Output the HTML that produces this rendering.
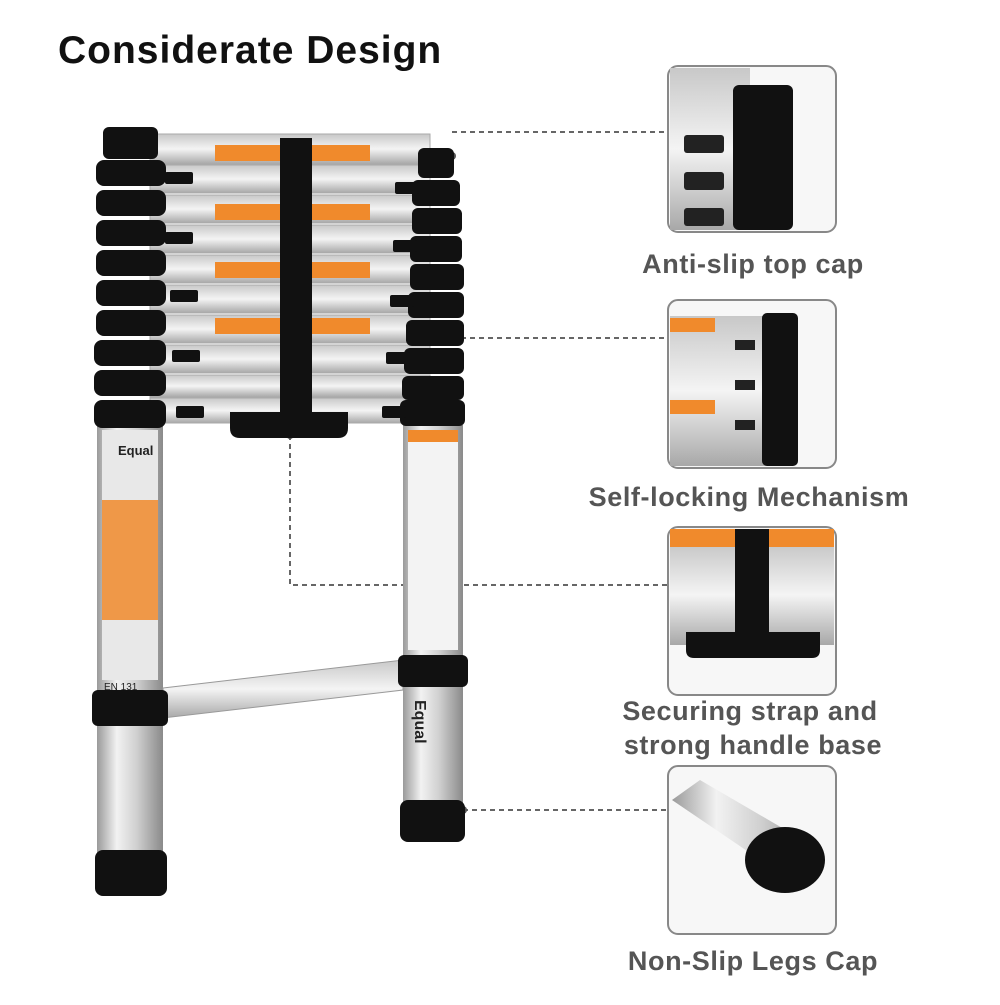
<!DOCTYPE html>
<html><head><meta charset="utf-8"><style>
body{margin:0;background:#fff;width:1000px;height:1000px;overflow:hidden;font-family:"Liberation Sans",sans-serif}
</style></head><body>
<svg width="1000" height="1000" viewBox="0 0 1000 1000" xmlns="http://www.w3.org/2000/svg">
<defs>
<linearGradient id="al" x1="0" x2="1" y1="0" y2="0">
<stop offset="0" stop-color="#9a9a9a"/><stop offset="0.3" stop-color="#f2f2f2"/><stop offset="0.6" stop-color="#d0d0d0"/><stop offset="1" stop-color="#8a8a8a"/></linearGradient>
<linearGradient id="rung" x1="0" x2="0" y1="0" y2="1">
<stop offset="0" stop-color="#c8c8c8"/><stop offset="0.5" stop-color="#f4f4f4"/><stop offset="1" stop-color="#a8a8a8"/></linearGradient>
</defs>
<text x="58" y="63" font-size="39" font-weight="bold" fill="#111" letter-spacing="1">Considerate Design</text>

<!-- connectors -->
<g stroke="#666" stroke-width="2" stroke-dasharray="5,4" fill="none">
<path d="M452 132H668"/><path d="M452 338H668"/><path d="M290 435V585H668"/><path d="M463 810H668"/>
</g>
<g fill="#555"><circle cx="452" cy="156" r="4"/><circle cx="452" cy="338" r="4"/><circle cx="290" cy="435" r="4"/><circle cx="463" cy="810" r="4"/></g>

<!-- legs -->
<rect x="97" y="425" width="66" height="435" fill="url(#al)"/>
<rect x="403" y="425" width="60" height="380" fill="url(#al)"/>
<polygon points="163,688 403,660 403,690 163,718" fill="url(#rung)" stroke="#999"/>
<rect x="92" y="690" width="76" height="36" rx="6" fill="#111"/>
<rect x="398" y="655" width="70" height="32" rx="6" fill="#111"/>
<rect x="95" y="850" width="72" height="46" rx="8" fill="#111"/>
<rect x="400" y="800" width="65" height="42" rx="8" fill="#111"/>
<rect x="102" y="430" width="56" height="250" fill="#e8e8e8"/>
<rect x="102" y="500" width="56" height="120" fill="#f08a2c" opacity="0.85"/>
<text x="118" y="455" font-size="13" font-weight="bold" fill="#222">Equal</text>
<text x="104" y="690" font-size="10" fill="#222">EN 131</text>
<rect x="408" y="430" width="50" height="220" fill="#f3f3f3"/>
<rect x="408" y="430" width="50" height="12" fill="#f08a2c"/>
<text x="415" y="700" font-size="16" font-weight="bold" fill="#222" transform="rotate(90 415 700)">Equal</text>

<!-- rungs -->
<g fill="url(#rung)" stroke="#aaa">
<rect x="150" y="134" width="280" height="30"/>
<rect x="150" y="165" width="280" height="28"/>
<rect x="150" y="195" width="280" height="28"/>
<rect x="150" y="225" width="280" height="28"/>
<rect x="150" y="255" width="280" height="28"/>
<rect x="150" y="285" width="280" height="28"/>
<rect x="150" y="315" width="280" height="28"/>
<rect x="150" y="345" width="280" height="28"/>
<rect x="150" y="375" width="280" height="22"/>
<rect x="150" y="398" width="280" height="25"/>
</g>
<g fill="#f08a2c"><rect x="215" y="145" width="155" height="16"/><rect x="215" y="204" width="155" height="16"/><rect x="215" y="262" width="155" height="16"/><rect x="215" y="318" width="155" height="16"/></g>
<g fill="#111">
<rect x="103" y="127" width="55" height="32" rx="6"/>
<rect x="418" y="148" width="36" height="30" rx="6"/>
<rect x="96" y="160" width="70" height="26" rx="8"/><rect x="96" y="190" width="70" height="26" rx="8"/>
<rect x="96" y="220" width="70" height="26" rx="8"/><rect x="96" y="250" width="70" height="26" rx="8"/>
<rect x="96" y="280" width="70" height="26" rx="8"/><rect x="96" y="310" width="70" height="26" rx="8"/>
<rect x="94" y="340" width="72" height="26" rx="8"/><rect x="94" y="370" width="72" height="26" rx="8"/>
<rect x="94" y="400" width="72" height="28" rx="8"/>
<rect x="412" y="180" width="48" height="26" rx="6"/><rect x="412" y="208" width="50" height="26" rx="6"/>
<rect x="410" y="236" width="52" height="26" rx="6"/><rect x="410" y="264" width="54" height="26" rx="6"/>
<rect x="408" y="292" width="56" height="26" rx="6"/><rect x="406" y="320" width="58" height="26" rx="6"/>
<rect x="404" y="348" width="60" height="26" rx="6"/><rect x="402" y="376" width="62" height="24" rx="6"/>
<rect x="400" y="400" width="65" height="26" rx="6"/>
<rect x="165" y="172" width="28" height="12" rx="2"/><rect x="165" y="232" width="28" height="12" rx="2"/>
<rect x="170" y="290" width="28" height="12" rx="2"/><rect x="172" y="350" width="28" height="12" rx="2"/>
<rect x="176" y="406" width="28" height="12" rx="2"/>
<rect x="395" y="182" width="24" height="12" rx="2"/><rect x="393" y="240" width="24" height="12" rx="2"/>
<rect x="390" y="295" width="24" height="12" rx="2"/><rect x="386" y="352" width="24" height="12" rx="2"/>
<rect x="382" y="406" width="24" height="12" rx="2"/>
<rect x="280" y="138" width="32" height="280"/>
<path d="M230 412H348V428Q348 438 338 438H240Q230 438 230 428Z"/>
</g>

<!-- panels -->
<g fill="#f7f7f7" stroke="#888" stroke-width="2">
<rect x="668" y="66" width="168" height="166" rx="10"/>
<rect x="668" y="300" width="168" height="168" rx="10"/>
<rect x="668" y="527" width="168" height="168" rx="10"/>
<rect x="668" y="766" width="168" height="168" rx="10"/>
</g>
<rect x="670" y="68" width="80" height="162" fill="url(#rung)"/>
<rect x="733" y="85" width="60" height="145" fill="#111" rx="6"/>
<g fill="#222"><rect x="684" y="135" width="40" height="18" rx="3"/><rect x="684" y="172" width="40" height="18" rx="3"/><rect x="684" y="208" width="40" height="18" rx="3"/></g>
<rect x="670" y="316" width="100" height="150" fill="url(#rung)"/>
<g fill="#f08a2c"><rect x="670" y="318" width="45" height="14"/><rect x="670" y="400" width="45" height="14"/></g>
<rect x="762" y="313" width="36" height="153" fill="#111" rx="5"/>
<g fill="#222"><rect x="735" y="340" width="20" height="10"/><rect x="735" y="380" width="20" height="10"/><rect x="735" y="420" width="20" height="10"/></g>
<rect x="670" y="545" width="164" height="100" fill="url(#rung)"/>
<rect x="670" y="529" width="164" height="18" fill="#f08a2c"/>
<rect x="735" y="529" width="34" height="115" fill="#111"/>
<path d="M686 632H820V650Q820 658 812 658H694Q686 658 686 650Z" fill="#111"/>
<polygon points="672,800 700,780 820,850 790,880" fill="url(#al)"/>
<ellipse cx="785" cy="860" rx="40" ry="33" fill="#111"/>

<g font-size="27" font-weight="bold" fill="#555" text-anchor="middle" letter-spacing="0.6">
<text x="753" y="273">Anti-slip top cap</text>
<text x="749" y="506">Self-locking Mechanism</text>
<text x="750" y="720">Securing strap and</text>
<text x="753" y="754">strong handle base</text>
<text x="753" y="970">Non-Slip Legs Cap</text>
</g>
</svg>
</body></html>
